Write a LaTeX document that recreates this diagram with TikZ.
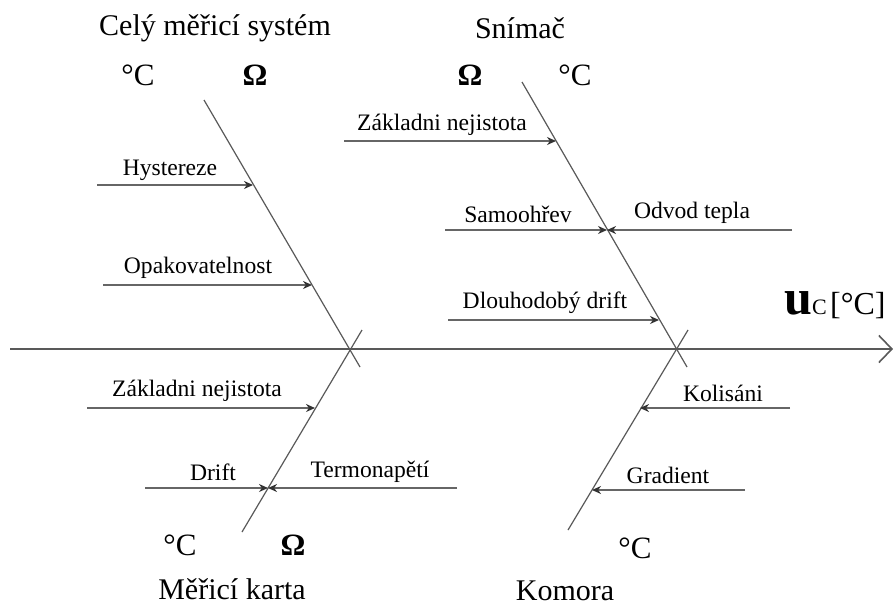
\documentclass[tikz,border=0pt]{standalone}
\usepackage{fontspec}
\setmainfont{Liberation Serif}
\usetikzlibrary{arrows.meta}

\begin{document}
\begin{tikzpicture}[
        x=0.5pt, y=-0.5pt,
        axis/.style={draw=black!65, line width=1pt, -{Straight Barb[length=6.5pt, width=13.5pt, line width=0.8pt]}},
        bone/.style={draw=black!65, line width=0.6pt},
        branch/.style={draw=black!60, line width=1pt, -{Stealth[length=4.5pt, width=4pt, black!80]}},
        lbl/.style={inner sep=0pt, font=\fontsize{11.8}{14}\selectfont},
        ttl/.style={inner sep=0pt, font=\fontsize{15}{17}\selectfont},
        unit/.style={inner sep=0pt, font=\fontsize{15.5}{17}\selectfont}
    ]
        \useasboundingbox (0,0) rectangle (893,605);

        % main axis
        \coordinate (start) at (10,349);
        \coordinate (end) at (893,349);
        \draw[axis] (start) -- (end);
        \node[inner sep=0pt, anchor=base] (uc) at (835,314) {{\fontsize{25}{25}\selectfont\bfseries u}{\fontsize{11}{11}\selectfont C}\,{\fontsize{16}{16}\selectfont[°C]}};

        % bones
        \coordinate (celyTop) at (204,100);
        \coordinate (celyEnd) at (360,367);
        \coordinate (snimTop) at (522,82);
        \coordinate (snimEnd) at (687,367);
        \coordinate (kartaTop) at (362,330);
        \coordinate (kartaEnd) at (242,532);
        \coordinate (komTop) at (688,330);
        \coordinate (komEnd) at (568,530);
        \draw[bone] (celyTop) -- (celyEnd);
        \draw[bone] (snimTop) -- (snimEnd);
        \draw[bone] (kartaTop) -- (kartaEnd);
        \draw[bone] (komTop) -- (komEnd);

        % Celý měřicí systém
        \node[ttl] (cely) at (215,28) {Celý měřicí systém};
        \node[unit] (celyC) at (138,75) {°C};
        \node[unit] (celyO) at (255,75) {\bfseries Ω};
        \coordinate (hysA) at (97,185);
        \coordinate (hysB) at (253,185);
        \draw[branch] (hysA) -- (hysB);
        \node[lbl] (hys) at (170,170) {Hystereze};
        \coordinate (opaA) at (103,285);
        \coordinate (opaB) at (312,285);
        \draw[branch] (opaA) -- (opaB);
        \node[lbl] (opa) at (198,268) {Opakovatelnost};

        % Snímač
        \node[ttl] (snim) at (520,28) {Snímač};
        \node[unit] (snimO) at (470,75) {\bfseries Ω};
        \node[unit] (snimC) at (575,75) {°C};
        \coordinate (zakA) at (344,141);
        \coordinate (zakB) at (556,141);
        \draw[branch] (zakA) -- (zakB);
        \node[lbl] (zak) at (442,125) {Základni nejistota};
        \coordinate (samA) at (445,230);
        \coordinate (samB) at (607,230);
        \coordinate (odvA) at (792,230);
        \draw[branch] (samA) -- (samB);
        \draw[branch] (odvA) -- (samB);
        \node[lbl] (sam) at (518,214) {Samoohřev};
        \node[lbl] (odv) at (692,213) {Odvod tepla};
        \coordinate (dloA) at (448,320);
        \coordinate (dloB) at (659,320);
        \draw[branch] (dloA) -- (dloB);
        \node[lbl] (dlo) at (545,303) {Dlouhodobý drift};

        % Měřicí karta
        \node[ttl] (karta) at (232,589) {Měřicí karta};
        \node[unit] (kartaC) at (180,545) {°C};
        \node[unit] (kartaO) at (293,545) {\bfseries Ω};
        \coordinate (zkA) at (87,408);
        \coordinate (zkB) at (315,408);
        \draw[branch] (zkA) -- (zkB);
        \node[lbl] (zk) at (197,391) {Základni nejistota};
        \coordinate (driA) at (145,488);
        \coordinate (driB) at (268,488);
        \coordinate (terA) at (457,488);
        \draw[branch] (driA) -- (driB);
        \draw[branch] (terA) -- (driB);
        \node[lbl] (dri) at (213,472) {Drift};
        \node[lbl] (ter) at (370,472) {Termonapětí};

        % Komora
        \node[ttl] (kom) at (565,591) {Komora};
        \node[unit] (komC) at (635,548) {°C};
        \coordinate (kolA) at (790,408);
        \coordinate (kolB) at (640,408);
        \draw[branch] (kolA) -- (kolB);
        \node[lbl] (kol) at (723,393) {Kolisáni};
        \coordinate (graA) at (745,490);
        \coordinate (graB) at (592,490);
        \draw[branch] (graA) -- (graB);
        \node[lbl] (gra) at (668,475) {Gradient};
    \end{tikzpicture}
\end{document}
